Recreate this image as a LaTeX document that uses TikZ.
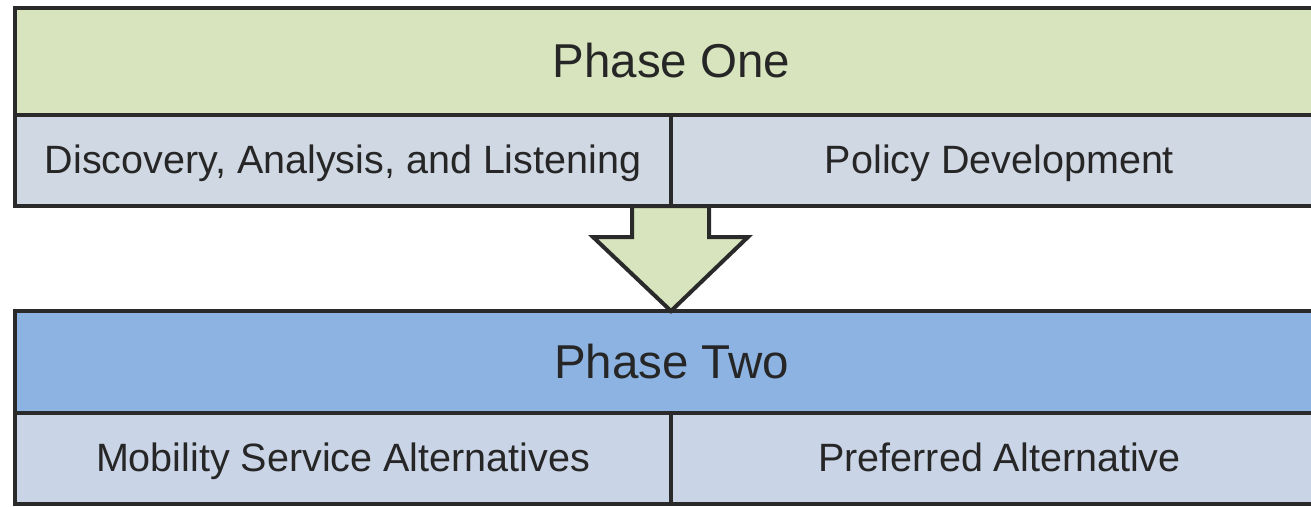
\documentclass[tikz,border=0pt]{standalone}
\usepackage{fontspec}
\setmainfont{Liberation Sans}
\usetikzlibrary{calc}
\definecolor{edge}{HTML}{2A2A2A}
\definecolor{txt}{HTML}{262626}
\definecolor{greenfill}{HTML}{D7E4BD}
\definecolor{greyblue}{HTML}{D0D8E4}
\definecolor{rowblue}{HTML}{C9D4E6}
\definecolor{phaseblue}{HTML}{8DB3E2}
\tikzset{
  x=1pt, y=1pt,
  box/.style={draw=edge, line width=4pt, inner sep=0pt, outer sep=0pt, text=txt, line join=miter},
  header/.style={box, minimum width=1313pt, font=\fontsize{47.5}{54}\selectfont,
    text height=34pt, text depth=2pt},
  cell/.style={box, minimum height=91pt, font=\fontsize{39.5}{45}\selectfont,
    text height=28.4pt, text depth=2.4pt},
}
\begin{document}
\begin{tikzpicture}
\useasboundingbox (0,0) rectangle (1311,-506);
\clip (0,0) rectangle (1311,-506);
% Phase One
\node[header, fill=greenfill, minimum height=107pt] (p1) at (671.5,-61.5) {Phase One};
\node[cell, fill=greyblue, minimum width=656pt] (c1) at (343,-160.5) {Discovery, Analysis, and Listening};
\node[cell, fill=greyblue, minimum width=657pt] (c2) at (999.5,-160.5) {Policy Development};
% Phase Two
\node[header, fill=phaseblue, minimum height=102pt] (p2) at (671.5,-362) {Phase Two};
\node[cell, fill=rowblue, minimum width=656pt] (c3) at (343,-458.5) {Mobility Service Alternatives};
\node[cell, fill=rowblue, minimum width=657pt] (c4) at (999.5,-458.5) {Preferred Alternative};
% Arrow
\coordinate (atop) at (c1.south east);
\coordinate (atip) at (c1.south east |- p2.north);
\draw[draw=edge, fill=greenfill, line width=4pt, line join=miter]
  ($(atop)+(-39,0)$) -- ($(atop)+(-39,-31)$) -- ($(atop)+(-78,-31)$)
  -- (atip) -- ($(atop)+(77,-31)$) -- ($(atop)+(38,-31)$) -- ($(atop)+(38,0)$) -- cycle;
\end{tikzpicture}
\end{document}
